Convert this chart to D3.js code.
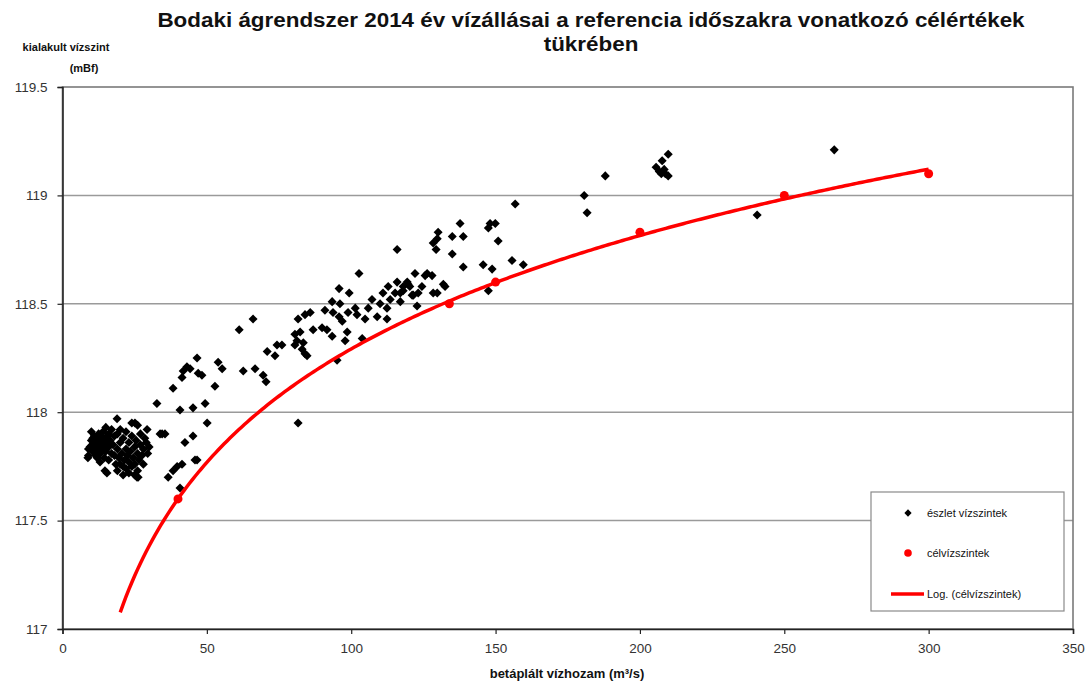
<!DOCTYPE html>
<html><head><meta charset="utf-8">
<script src="https://cdn.jsdelivr.net/npm/d3@7"></script>
<style>body{margin:0;background:#fff}svg{display:block;font-family:"Liberation Sans",Arial,sans-serif}</style>
</head><body><svg id="c" width="1089" height="686"></svg>
<script>
const titleLines = ["Bodaki ágrendszer 2014 év vízállásai a referencia időszakra vonatkozó célértékek", "tükrében"];
const yLabelLines = ["kialakult vízszint", "(mBf)"];
const xLabel = "betáplált vízhozam (m³/s)";
const legendLabels = ["észlet vízszintek", "célvízszintek", "Log. (célvízszintek)"];
const xTicks = [0, 50, 100, 150, 200, 250, 300, 350];
const yTicks = [117, 117.5, 118, 118.5, 119, 119.5];
const trendRange = [20, 300];

// observed water levels [discharge, level]
const observed = [
[267.3,119.21],[240.6,118.91],
[209.8,119.19],[207.7,119.16],[205.6,119.13],[206.7,119.11],[208.4,119.12],[209.8,119.09],[208.8,119.10],[207.4,119.10],
[188,119.09],[180.7,119.0],[181.7,118.92],
[156.8,118.96],[137.7,118.87],[135,118.81],[138.8,118.81],[130.1,118.83],[129.8,118.80],[128.4,118.78],[129.4,118.75],[135,118.73],[138.8,118.67],
[148.1,118.87],[149.9,118.87],[147.5,118.85],[150.9,118.79],[145.7,118.68],[148.8,118.66],[155.7,118.70],[159.6,118.68],[147.5,118.56],
[122.1,118.64],[126.3,118.64],[128,118.63],[119.4,118.60],[120.3,118.58],[124.5,118.58],[123.2,118.55],[121.5,118.54],[117,118.55],[118,118.58],[129.8,118.55],[132.5,118.58],[128.4,118.55],[122.8,118.49],[115.9,118.75],
[102.7,118.64],[95.8,118.57],[99.3,118.55],[93.4,118.51],[96.1,118.50],[90.9,118.47],[93.7,118.46],[85.8,118.46],[84,118.45],[81.6,118.43],[95.8,118.44],[96.9,118.42],[98.9,118.46],[101.4,118.48],[102,118.45],[86.8,118.38],[89.9,118.39],[91.6,118.38],[93.4,118.35],[98.6,118.37],[97.9,118.33],[103.8,118.34],[95.1,118.24],[82.3,118.37],[81.2,118.33],[80.5,118.31],[83.4,118.32],[83,118.29],[84.7,118.26],[76,118.31],[104.8,118.43],[105.9,118.48],[109,118.44],[107.2,118.52],[110,118.50],[111,118.55],[112.8,118.58],[113.5,118.52],[112.4,118.48],[115.2,118.55],[115.9,118.60],[117,118.51],[118,118.56],[119.7,118.59],[121.1,118.54],[112.4,118.43],[131.9,118.59],[125.6,118.63],[80.5,118.36],[84,118.27],
[61.2,118.38],[66,118.43],[46.6,118.25],[43.1,118.21],[41.8,118.19],[41.4,118.16],[44.2,118.20],[47,118.18],[48.3,118.17],[53.9,118.23],[55.3,118.20],[52.8,118.12],[38.3,118.11],[32.7,118.04],[40.7,118.01],[45.2,118.02],[49.4,118.04],[50.1,117.95],[33.8,117.90],[35.5,117.90],[45.2,117.89],[42.4,117.86],[46.6,117.78],[41.4,117.76],[39.7,117.75],[38.3,117.73],[36.6,117.70],[70.9,118.28],[74.3,118.31],[73.6,118.26],[62.6,118.19],[66.7,118.20],[69.5,118.17],[70.5,118.14],[40.7,117.65],[45.9,117.78],[81.6,117.95],
[18.9,117.97],[25.1,117.95],[29.3,117.92],[34.5,117.90],
[9,117.80],[9.5,117.84],[10,117.87],[10.5,117.82],[11,117.85],[11,117.89],[11.5,117.80],[12,117.83],[12,117.87],[12.5,117.90],[13,117.85],[13,117.81],[13.5,117.88],[14,117.84],[14,117.91],[14.5,117.79],[15,117.86],[15,117.82],[15.5,117.89],[16,117.84],[16,117.78],[16.5,117.87],[17,117.81],[17,117.92],[17.5,117.85],[10,117.91],[12,117.79],[13,117.77],[14,117.88],[15,117.93],[11,117.83],[12.5,117.85],[16,117.90],[18,117.89],[9,117.83],[10.5,117.88],[13.5,117.83],[14.5,117.86],
[18,117.80],[18.5,117.76],[19,117.83],[19,117.73],[19.5,117.79],[20,117.76],[20,117.86],[20.5,117.81],[21,117.75],[21,117.88],[21.5,117.78],[22,117.83],[22,117.74],[22.5,117.80],[23,117.77],[23,117.86],[23.5,117.82],[24,117.75],[24,117.89],[24.5,117.79],[25,117.84],[25,117.76],[25.5,117.87],[26,117.81],[26,117.73],[26.5,117.78],[27,117.85],[27,117.90],[27.5,117.80],[28,117.83],[28,117.76],[28.5,117.88],[29,117.86],[29.5,117.81],[30,117.84],[21,117.71],[23,117.72],[25,117.71],[19,117.90],[20,117.92],[22,117.91],[26,117.94],[24,117.95],
[14.7,117.73],[25.8,117.70],[8.8,117.79],[15.4,117.72],[26.2,117.70]
];

// target levels
const targetQ = [40, 134, 150, 200, 250, 300];
const targetH = [117.6, 118.5, 118.6, 118.83, 119.0, 119.1];

// log trendline fitted from targets (least squares: h = a ln q + b)
const lx = targetQ.map(Math.log);
const mx = d3.mean(lx), my = d3.mean(targetH);
const a = d3.sum(lx.map((v,i)=>(v-mx)*(targetH[i]-my))) / d3.sum(lx.map(v=>(v-mx)*(v-mx)));
const b = my - a*mx;
const trendQ = d3.range(trendRange[0], trendRange[1]+0.5, 1);

const svg = d3.select("#c");
const L = 62.5, R = 1073, T = 87, B = 629;
const x = d3.scaleLinear().domain([0,350]).range([L,R]);
const y = d3.scaleLinear().domain([117,119.5]).range([B,T]);

// gridlines
svg.append("g").selectAll("line").data(yTicks.filter(v=>v>117 && v<119.5)).join("line")
  .attr("x1",L).attr("x2",R).attr("y1",d=>y(d)).attr("y2",d=>y(d))
  .attr("stroke","#9a9a9a").attr("stroke-width",1.5);

// plot frame
svg.append("rect").attr("x",L).attr("y",T).attr("width",R-L).attr("height",B-T)
  .attr("fill","none").attr("stroke","#7a7a7a").attr("stroke-width",1.6);

// axes
const xa = svg.append("g").attr("transform",`translate(0,${B})`)
  .call(d3.axisBottom(x).tickValues(xTicks).tickFormat(d3.format("d")).tickSize(5).tickPadding(9));
const ya = svg.append("g").attr("transform",`translate(${L},0)`)
  .call(d3.axisLeft(y).tickValues(yTicks).tickFormat(d=>String(d)).tickSize(5).tickPadding(10));
[xa,ya].forEach(g=>{
  g.select(".domain").attr("stroke","#222").attr("stroke-width",1.5);
  g.selectAll(".tick line").attr("stroke","#222").attr("stroke-width",1.2);
  g.selectAll("text").attr("font-size",13.5).attr("fill","#333").attr("font-family","Liberation Sans, Arial, sans-serif");
});

// observed points (diamonds)
const diamond = d3.symbol().type(d3.symbolDiamond2).size(52);
svg.append("g").selectAll("path").data(observed).join("path")
  .attr("d",diamond).attr("transform",d=>`translate(${x(d[0])},${y(d[1])})`).attr("fill","#000");

// trendline
svg.append("path").datum(trendQ)
  .attr("d", d3.line().x(q=>x(q)).y(q=>y(a*Math.log(q)+b)))
  .attr("fill","none").attr("stroke","#ff0000").attr("stroke-width",3.5);

// target points
svg.append("g").selectAll("circle").data(targetQ).join("circle")
  .attr("cx",(d)=>x(d)).attr("cy",(d,i)=>y(targetH[i])).attr("r",4.5).attr("fill","#ff0000");

// title (fitted to the reference width)
const tg = svg.append("g");
const tt = tg.selectAll("text").data(titleLines).join("text")
  .attr("x",0).attr("y",(d,i)=>27+i*24).attr("text-anchor","middle")
  .attr("font-size",20.5).attr("font-weight","bold").attr("fill","#111").text(d=>d);
const tw = tt.nodes()[0].getComputedTextLength();
tg.attr("transform",`translate(591,0) scale(${868/tw},1)`);

// y label
svg.append("g").selectAll("text").data(yLabelLines).join("text")
  .attr("x",(d,i)=>i===0?66:84).attr("y",(d,i)=>51+i*21).attr("text-anchor","middle")
  .attr("font-size",11).attr("font-weight","bold").attr("fill","#111").text(d=>d);

// x label
svg.append("text").attr("x",567).attr("y",678).attr("text-anchor","middle")
  .attr("font-size",13).attr("font-weight","bold").attr("fill","#111").text(xLabel);

// legend
const lg = svg.append("g");
lg.append("rect").attr("x",871).attr("y",492).attr("width",193).attr("height",119)
  .attr("fill","#fff").attr("stroke","#8a8a8a").attr("stroke-width",1.2);
lg.append("path").attr("d",d3.symbol().type(d3.symbolDiamond2).size(34)).attr("transform","translate(908,513)").attr("fill","#000");
lg.append("circle").attr("cx",908).attr("cy",553).attr("r",3.8).attr("fill","#ff0000");
lg.append("line").attr("x1",891).attr("x2",924).attr("y1",594).attr("y2",594).attr("stroke","#ff0000").attr("stroke-width",3.5);
lg.selectAll("text.l").data(legendLabels).join("text").attr("class","l")
  .attr("x",927).attr("y",(d,i)=>[517,557,598][i])
  .attr("font-size",11).attr("fill","#111").text(d=>d);
</script></body></html>
